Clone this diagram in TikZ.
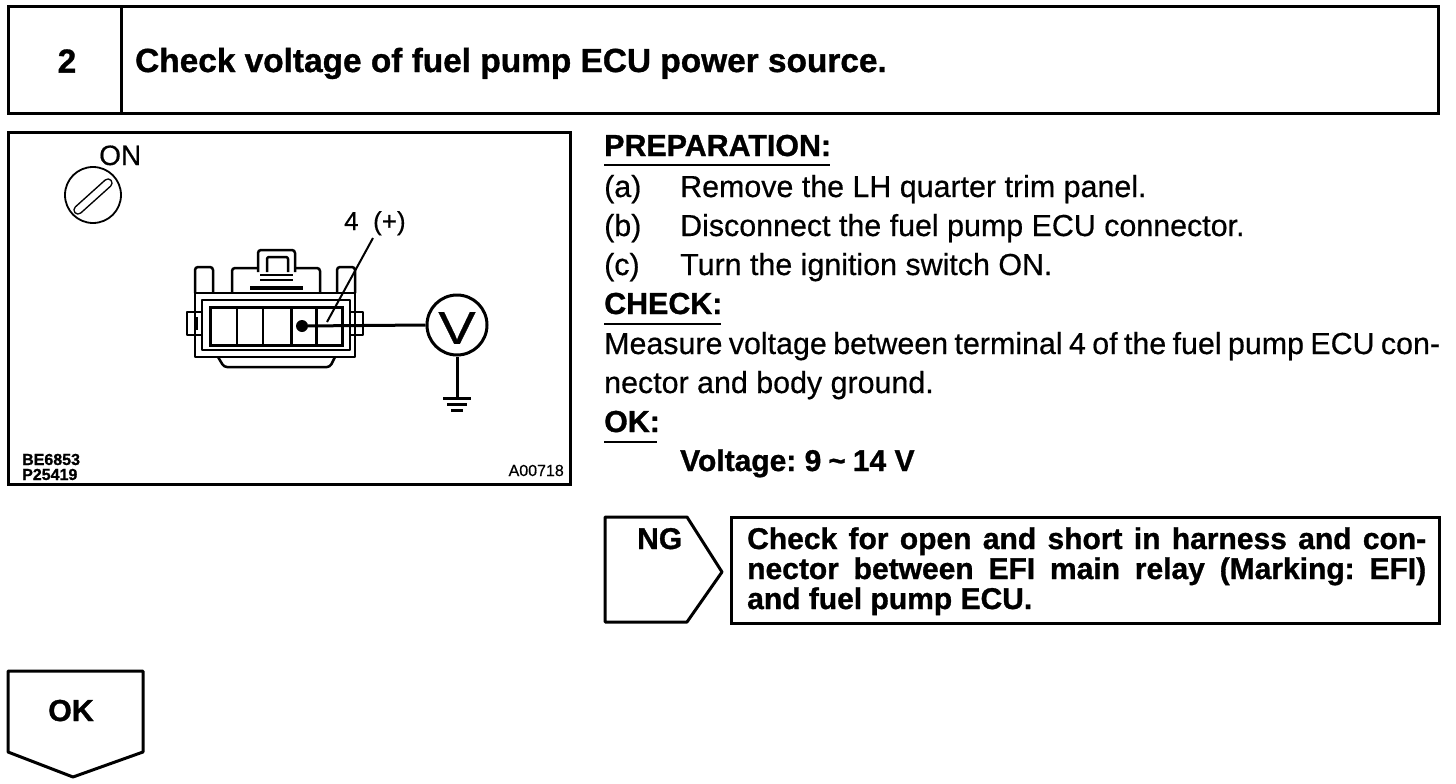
\documentclass[tikz,border=0pt]{standalone}
\usepackage{fontspec}
\setmainfont{Liberation Sans}[UprightFeatures={FakeBold=0.5},BoldFeatures={FakeBold=1.0}]
\newcommand{\fs}[1]{\fontsize{#1}{#1}\selectfont}
\frenchspacing
\tikzset{
  x=1pt,y=-1pt,
  frame/.style={draw=black,line width=3pt,line join=miter},
  thinl/.style={draw=black,line width=2.5pt,line join=round},
  keyl/.style={draw=black,line width=1.8pt},
  wire/.style={draw=black,line width=3pt},
  txt/.style={inner sep=0pt,anchor=base west,font=\fs{30.4}},
  btxt/.style={inner sep=0pt,anchor=base west,font=\fs{30.4}\bfseries},
  head/.style={inner sep=0pt,anchor=base west,font=\fs{33.4}\bfseries},
  boxt/.style={inner sep=0pt,anchor=base west,font=\fs{30}\bfseries},
  small/.style={inner sep=0pt,anchor=base west,font=\fs{16}},
  rulel/.style={draw=black,line width=1.6pt},
  meter/.style={circle,draw=black,line width=3pt,minimum size=60pt,inner sep=0pt,fill=white},
  termdot/.style={circle,fill=black,inner sep=0pt,minimum size=12pt},
}
\begin{document}
\begin{tikzpicture}
\useasboundingbox (0,0) rectangle (1456,784);
\fill[white] (0,0) rectangle (1456,784);
% header
\draw[frame] (8,7) rectangle (1438,113);
\draw[frame] (121,7) -- (121,113);
\node[inner sep=0pt,font=\fs{33.4}\bfseries] (num) at (67,61) {2};
\node[head] (title) at (135,72) {Check voltage of fuel pump ECU power source.};
% image frame
\draw[frame] (8,132) rectangle (570,484);
\node[inner sep=0pt,anchor=base west,font=\fs{28}] (on) at (99,165) {ON};
\draw[keyl] (93,195) circle (28);
\draw[black,line width=9.5pt,line cap=round] (78,210) -- (108,183);
\draw[white,line width=6.5pt,line cap=round] (78,210) -- (108,183);
\node[inner sep=0pt,anchor=base west,font=\fs{26}] (four) at (344,230) {4\hspace{14.5pt}(+)};
% connector
\draw[thinl] (195,293) rectangle (355,357);
\draw[thinl] (202,300) rectangle (350,350);
\draw[wire] (210,307) rectangle (342,345);
\foreach \x in {237,263,316} \draw[thinl] (\x,307) -- (\x,345);
\draw[wire] (291,307) -- (291,345) (291,307) -- (316,307) (291,345) -- (316,345) (316,307) -- (316,345);
\draw[thinl,rounded corners=3pt] (195,293) -- (195,267) -- (213,267) -- (213,293);
\draw[thinl,rounded corners=3pt] (337,293) -- (337,267) -- (355,267) -- (355,293);
\draw[thinl,rounded corners=3pt] (232,293) -- (232,268) -- (320,268) -- (320,293);
\draw[thinl,fill=white,rounded corners=3pt] (258,272) -- (258,250) -- (295,250) -- (295,272);
\draw[thinl,rounded corners=2pt] (267,272) -- (267,257) -- (288,257) -- (288,272);
\draw[thinl] (260,275) -- (293,275) (260,280) -- (293,280);
\draw[line width=3.5pt] (250,288) -- (303,288);
\draw[thinl] (202,312) -- (187,312) -- (187,335) -- (202,335);
\draw[thinl] (197,317) -- (197,330);
\draw[thinl] (350,312) -- (363,312) -- (363,335) -- (350,335);
\draw[thinl,rounded corners=3pt] (218,357) -- (224,367) -- (330,367) -- (335,357);
% measuring circuit
\node[termdot] (dot) at (302,326) {};
\node[meter] (vm) at (457,325) {};
\node[inner sep=0pt,font=\fs{46}] (vlabel) at (457,328) {\scalebox{1.22}[1]{V}};
\coordinate (gnd) at (457,398);
\coordinate (lead) at (327,322);
\coordinate (leadtop) at (373,238);
\draw[wire] (dot) -- (vm.west);
\draw[wire] (vm.south) -- (gnd);
\draw[wire] (443,398) -- (471,398);
\draw[wire] (447,404) -- (467,404);
\draw[wire] (451,410) -- (463,410);
\draw[thinl,line width=2pt] (leadtop) -- (lead);
\node[small,font=\fs{16}\bfseries] (c1) at (22,465) {BE6853};
\node[small,font=\fs{16}\bfseries] (c2) at (22,480) {P25419};
\node[small,anchor=base east] (c3) at (564,476) {A00718};
% right text
\node[btxt] (prep) at (604,156) {PREPARATION:};
\draw[rulel] (604,165) -- (830,165);
\node[txt] (a1) at (604,197) {(a)};
\node[txt] (a2) at (680,197) {Remove the LH quarter trim panel.};
\node[txt] (b1) at (604,236) {(b)};
\node[txt] (b2) at (680,236) {Disconnect the fuel pump ECU connector.};
\node[txt] (c1x) at (604,275) {(c)};
\node[txt] (c2x) at (680,275) {Turn the ignition switch ON.};
\node[btxt] (check) at (604,314) {CHECK:};
\draw[rulel] (604,324) -- (721,324);
\node[txt] (m1) at (604,354) {\makebox[836pt][s]{Measure voltage between terminal 4 of the fuel pump ECU con-}};
\node[txt] (m2) at (604,393) {nector and body ground.};
\node[btxt] (ok) at (604,432) {OK:};
\draw[rulel] (604,442) -- (657,442);
\node[boxt] (volt) at (680,471) {Voltage: 9\hspace{7pt}\textasciitilde\hspace{7pt}14 V};
% NG
\draw[frame,line join=round] (605,517) -- (687,517) -- (722,572) -- (687,622) -- (605,622) -- cycle;
\node[boxt] (ng) at (637,549) {NG};
\draw[frame] (731,517) rectangle (1439,623);
\node[boxt] (n1) at (747,549) {\makebox[679pt][s]{Check for open and short in harness and con-}};
\node[boxt] (n2) at (747,579) {\makebox[679pt][s]{nector between EFI main relay (Marking: EFI)}};
\node[boxt] (n3) at (747,609) {and fuel pump ECU.};
% OK
\draw[frame,line join=round] (8,671) -- (143,671) -- (143,752) -- (73,777) -- (8,752) -- cycle;
\node[btxt] (okb) at (48,721) {OK};
\end{tikzpicture}
\end{document}
